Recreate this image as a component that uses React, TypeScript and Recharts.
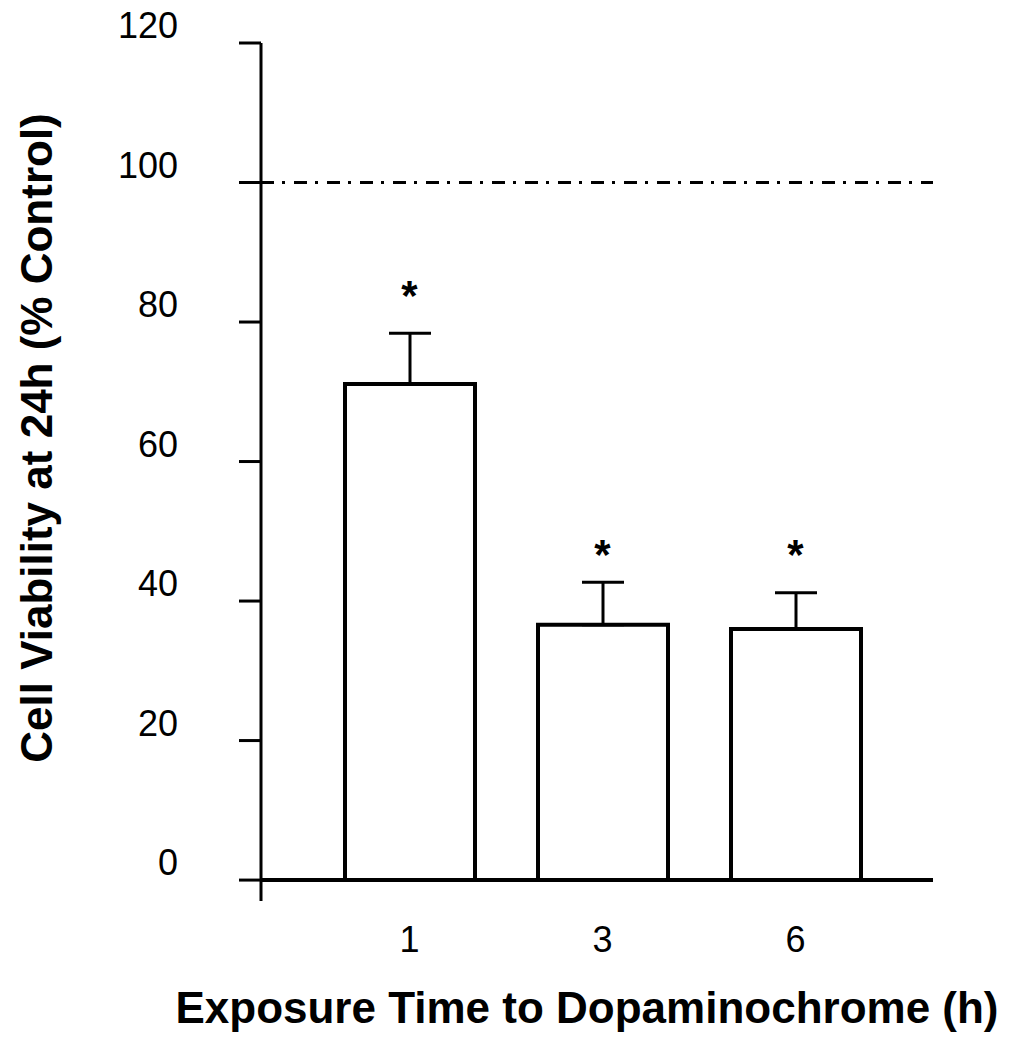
import {
  ComposedChart,
  Bar,
  ErrorBar,
  Scatter,
  XAxis,
  YAxis,
  ReferenceLine,
} from "recharts";

const HOURS = ["1", "3", "6"];
const VIABILITY = [71.1, 36.6, 36.0];
const SEM = [7.3, 6.1, 5.2];
const STAR_AT = [85.2, 48.0, 48.0];
const Y_TICKS = [0, 20, 40, 60, 80, 100, 120];
const CONTROL_LEVEL = 100;

const FONT = "'Liberation Sans', Arial, sans-serif";

const data = HOURS.map((h, i) => ({
  name: h,
  value: VIABILITY[i],
  err: [0, SEM[i]],
  star: STAR_AT[i],
}));

function YTick(props: any) {
  const { x, y, payload } = props;
  return (
    <text x={x} y={y - 5} textAnchor="end" fontSize={36} fontFamily={FONT} fill="#000">
      {payload.value}
    </text>
  );
}

function XTick(props: any) {
  const { x, y, payload } = props;
  return (
    <text x={x} y={y + 51} textAnchor="middle" fontSize={36} fontFamily={FONT} fill="#000">
      {payload.value}
    </text>
  );
}

function Star(props: any) {
  const { cx, cy } = props;
  return (
    <text x={cx} y={cy + 24} textAnchor="middle" fontSize={42} fontWeight="bold" fontFamily={FONT} fill="#000">
      *
    </text>
  );
}

export default function App() {
  return (
    <div style={{ position: "absolute", left: 0, top: 0, width: 1015, height: 1050, background: "#fff" }}>
      <ComposedChart
        width={1015}
        height={1050}
        data={data}
        margin={{ top: 43, right: 82, bottom: 89, left: 161 }}
      >
        <XAxis
          dataKey="name"
          axisLine={false}
          tickLine={false}
          tickSize={0}
          tickMargin={0}
          height={60}
          padding={{ left: 52, right: 41 }}
          tick={<XTick />}
        />
        <YAxis
          type="number"
          domain={[-3, 120]}
          ticks={Y_TICKS}
          allowDataOverflow
          width={100}
          tickSize={22}
          tickMargin={61}
          axisLine={{ stroke: "#000", strokeWidth: 3 }}
          tickLine={{ stroke: "#000", strokeWidth: 3 }}
          tick={<YTick />}
        />
        <ReferenceLine y={0} stroke="#000" strokeWidth={4} />
        <ReferenceLine
          y={CONTROL_LEVEL}
          stroke="#000"
          strokeWidth={3}
          strokeDasharray="13 8 3 9"
        />
        <Bar
          dataKey="value"
          barSize={130}
          fill="#fff"
          stroke="#000"
          strokeWidth={4}
          isAnimationActive={false}
        >
          <ErrorBar dataKey="err" width={21} stroke="#000" strokeWidth={3} direction="y" />
        </Bar>
        <Scatter dataKey="star" shape={<Star />} isAnimationActive={false} />
      </ComposedChart>
      <svg
        width={1015}
        height={1050}
        style={{ position: "absolute", left: 0, top: 0, pointerEvents: "none" }}
      >
        <text
          transform="translate(52,438) rotate(-90)"
          textAnchor="middle"
          fontSize={44}
          fontWeight="bold"
          fontFamily={FONT}
          fill="#000"
        >
          Cell Viability at 24h (% Control)
        </text>
        <text
          x={587}
          y={1023}
          textAnchor="middle"
          fontSize={44}
          fontWeight="bold"
          fontFamily={FONT}
          fill="#000"
        >
          Exposure Time to Dopaminochrome (h)
        </text>
      </svg>
    </div>
  );
}
